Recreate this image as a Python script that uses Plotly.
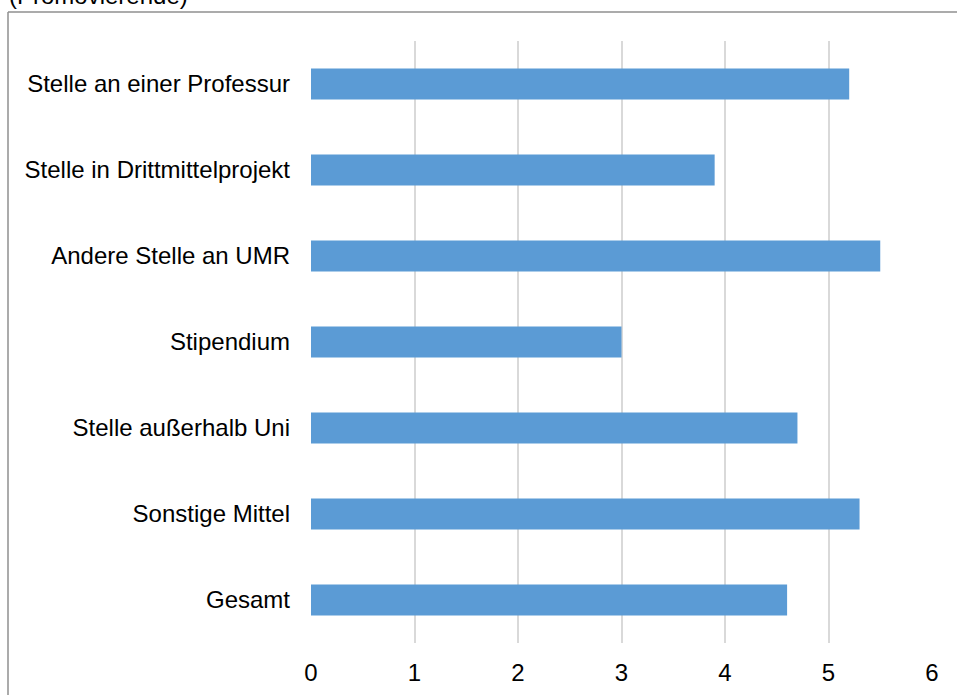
import plotly.graph_objects as go

# Durchschnittswerte nach Finanzierungsart
categories = [
    "Stelle an einer Professur",
    "Stelle in Drittmittelprojekt",
    "Andere Stelle an UMR",
    "Stipendium",
    "Stelle außerhalb Uni",
    "Sonstige Mittel",
    "Gesamt",
]
values = [5.2, 3.9, 5.5, 3.0, 4.7, 5.3, 4.6]
x_ticks = [0, 1, 2, 3, 4, 5, 6]
subtitle = "(Promovierende)"

W, H = 957, 695
L, R, T, B = 311, 25, 41, 52
plot_w = W - L - R
plot_h = H - T - B


def px_x(px):
    return (px - L) / plot_w


def px_y(py):
    return (H - B - py) / plot_h


fig = go.Figure(
    go.Bar(
        x=values,
        y=categories,
        orientation="h",
        marker=dict(color="#5B9BD5", line=dict(width=0)),
        hoverinfo="x+y",
    )
)

font = dict(family="Liberation Sans, Arial, sans-serif", size=24, color="#000000")

fig.update_layout(
    width=W,
    height=H,
    margin=dict(l=L, r=R, t=T, b=B, pad=0, autoexpand=False),
    paper_bgcolor="white",
    plot_bgcolor="white",
    font=font,
    bargap=0.64,
    showlegend=False,
    xaxis=dict(
        range=[0, 6],
        tickvals=x_ticks,
        ticktext=[str(v) for v in x_ticks],
        showgrid=True,
        gridcolor="#D9D9D9",
        gridwidth=1.5,
        zeroline=False,
        showline=False,
        ticks="",
        ticklabelstandoff=13,
        tickfont=font,
        automargin=False,
        fixedrange=True,
    ),
    yaxis=dict(
        categoryorder="array",
        categoryarray=categories,
        autorange="reversed",
        showgrid=False,
        zeroline=False,
        showline=False,
        ticks="",
        ticklabelstandoff=20,
        tickfont=font,
        automargin=False,
        fixedrange=True,
    ),
    shapes=[
        # Rahmen oben und links
        dict(type="line", xref="paper", yref="paper",
             x0=px_x(8), x1=px_x(W + 5), y0=px_y(12), y1=px_y(12),
             line=dict(color="#8F8F8F", width=1.5)),
        dict(type="line", xref="paper", yref="paper",
             x0=px_x(8), x1=px_x(8), y0=px_y(12), y1=px_y(H + 5),
             line=dict(color="#8F8F8F", width=1.5)),
    ],
    annotations=[
        dict(text=subtitle, xref="paper", yref="paper",
             x=px_x(7), y=px_y(-5), xanchor="left", yanchor="middle",
             showarrow=False, font=font),
    ],
)

fig.write_html("out.html")
